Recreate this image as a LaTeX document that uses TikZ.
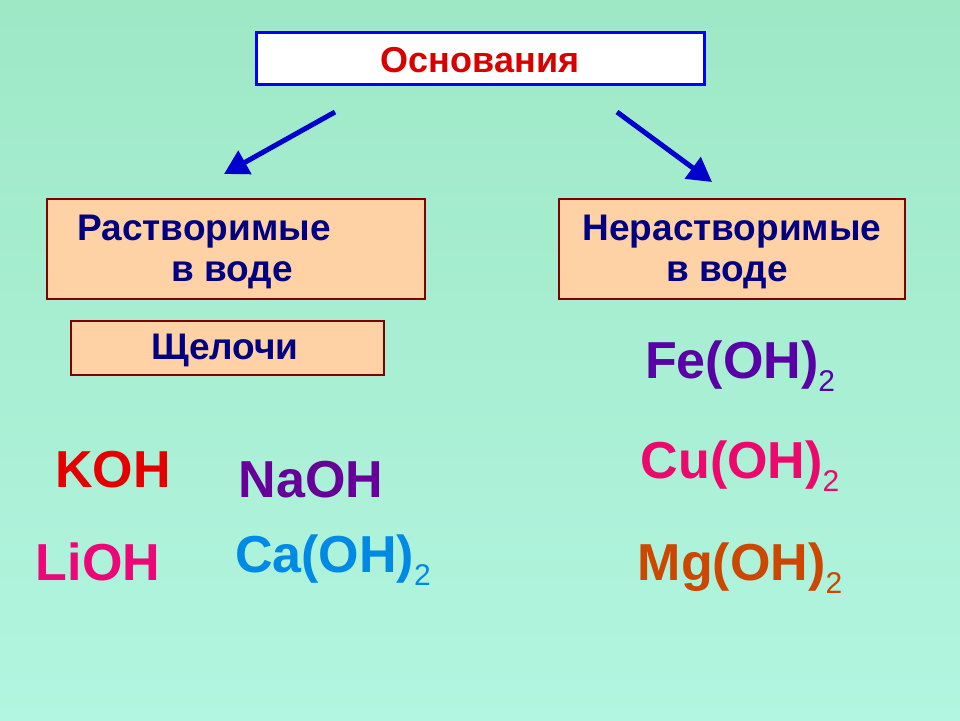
\documentclass[tikz,border=0pt]{standalone}
\usepackage{fontspec}
\setmainfont{Liberation Sans}
\usetikzlibrary{arrows.meta}
\newcommand{\sbs}[1]{\raisebox{-0.25em}{\fontsize{30}{30}\selectfont\mdseries #1}}
\begin{document}
\begin{tikzpicture}[x=1pt,y=-1pt,
  hdr/.style={draw=blue,line width=3pt,fill=white},
  catbox/.style={draw=red!50!black,line width=2.5pt,fill=orange!35!white},
  arr/.style={draw=blue!80!black,line width=5pt,-{Triangle[length=24pt,width=26pt]}},
  cat/.style={font=\bfseries\fontsize{37}{42}\selectfont,text=blue!50!black,align=center},
  form/.style={font=\bfseries\fontsize{52}{56}\selectfont}]
\definecolor{bgt}{HTML}{9EE8C6}
\definecolor{bgb}{HTML}{B2F5E0}
\shade[top color=bgt,bottom color=bgb] (0,0) rectangle (960,720);
\draw[hdr] (256,32) rectangle (704,84);
\node[font=\bfseries\fontsize{36}{40}\selectfont,text=red!85!black] (osn) at (480,60) {Основания};
\coordinate (a1s) at (335,112); \coordinate (a1e) at (224,174);
\coordinate (a2s) at (617,112); \coordinate (a2e) at (712,182);
\draw[arr] (a1s) -- (a1e);
\draw[arr] (a2s) -- (a2e);
\draw[catbox] (47,199) rectangle (425,299);
\node[cat] (r1) at (204,232) {Растворимые};
\node[cat] (r2) at (232,275) {в воде};
\draw[catbox] (559,199) rectangle (905,299);
\node[cat] (n1) at (732,232) {Нерастворимые};
\node[cat] (n2) at (727,275) {в воде};
\draw[catbox] (71,321) rectangle (384,375);
\node[cat] (sh) at (225,350) {Щелочи};
\node[form,text=red!90!black] (koh) at (113,470) {KOH};
\node[form,text=violet!80!blue] (naoh) at (311,480) {NaOH};
\node[form,text=magenta!80!red] (lioh) at (98,562) {LiOH};
\node[form,text=blue!40!cyan!90!black] (caoh) at (333,560) {Ca(OH)\sbs{2}};
\node[form,text=violet!70!blue] (feoh) at (740,366) {Fe(OH)\sbs{2}};
\node[form,text=magenta!70!red] (cuoh) at (740,466) {Cu(OH)\sbs{2}};
\node[form,text=orange!70!red!80!black] (mgoh) at (740,568) {Mg(OH)\sbs{2}};
\end{tikzpicture}
\end{document}
